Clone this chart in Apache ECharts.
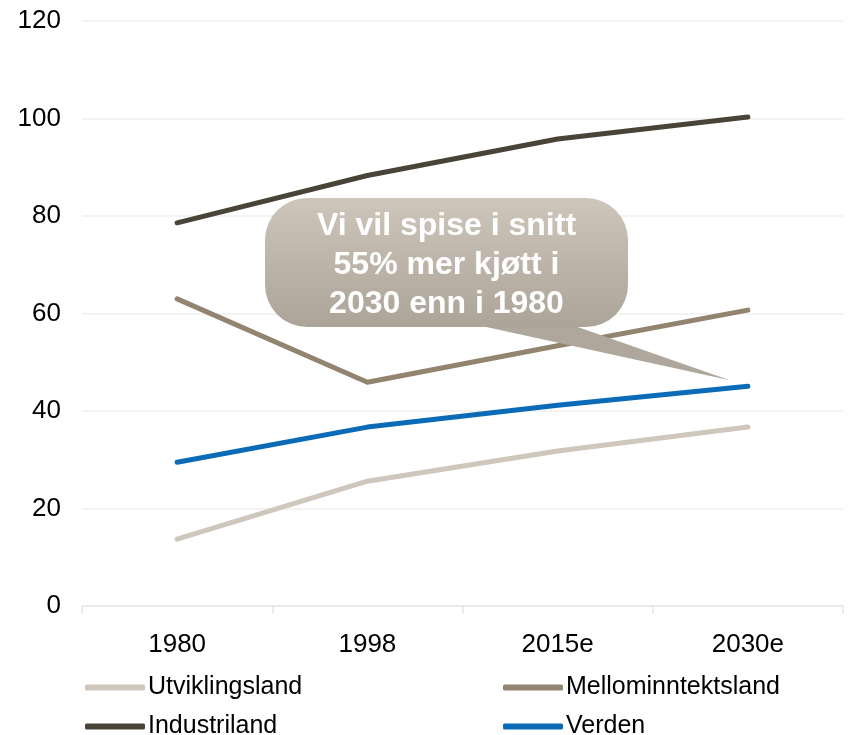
<!DOCTYPE html>
<html>
<head>
<meta charset="utf-8">
<script src="https://cdn.jsdelivr.net/npm/echarts@6/dist/echarts.min.js"></script>
<style>
html,body{margin:0;padding:0;background:#fff;}
#chart{width:850px;height:735px;}
</style>
</head>
<body>
<div id="chart"></div>
<script>
var categories = ['1980', '1998', '2015e', '2030e'];
var utviklingsland = [13.7, 25.6, 31.8, 36.7];
var mellominntektsland = [63.0, 45.9, 53.4, 60.7];
var industriland = [78.6, 88.3, 95.8, 100.3];
var verden = [29.5, 36.7, 41.2, 45.1];
var yTicks = {min: 0, max: 120, interval: 20};
var calloutText = 'Vi vil spise i snitt\n55% mer kjøtt i\n2030 enn i 1980';

var FONT = 'Arial, "Liberation Sans", sans-serif';
var colors = {
  Utviklingsland: '#CFC6BC',
  Mellominntektsland: '#938470',
  Industriland: '#4A4338',
  Verden: '#0B6BB6'
};

function lineSeries(name, data) {
  return {
    name: name,
    type: 'line',
    data: data,
    symbol: 'none',
    smooth: false,
    lineStyle: {width: 5, color: colors[name], cap: 'round', join: 'round'},
    itemStyle: {color: colors[name]},
    z: 2
  };
}

var chart = echarts.init(document.getElementById('chart'), null, {renderer: 'canvas'});
function legendAt(left, names) {
  return {
    type: 'plain',
    orient: 'vertical',
    left: left,
    top: 675,
    width: 320,
    height: 90,
    padding: 0,
    itemWidth: 60,
    itemHeight: 6,
    itemGap: 14,
    icon: 'roundRect',
    data: names,
    textStyle: {fontSize: 25, fontFamily: FONT, color: '#000', lineHeight: 22, padding: [0, 0, 0, -2]}
  };
}
var option = {
  animation: false,
  backgroundColor: '#fff',
  grid: {left: 82, right: 7, top: 21, bottom: 129, containLabel: false},
  xAxis: {
    type: 'category',
    data: categories,
    boundaryGap: true,
    axisLine: {lineStyle: {color: '#E6E6E6', width: 1.5}},
    axisTick: {show: true, length: 8, lineStyle: {color: '#E6E6E6', width: 1.5}},
    axisLabel: {fontSize: 26, fontFamily: FONT, color: '#000', margin: 26}
  },
  yAxis: {
    type: 'value',
    min: yTicks.min,
    max: yTicks.max,
    interval: yTicks.interval,
    axisLine: {show: false},
    axisTick: {show: false},
    axisLabel: {fontSize: 26, fontFamily: FONT, color: '#000', margin: 21},
    splitLine: {lineStyle: {color: '#EFEFEF', width: 1.5}}
  },
  legend: [
    legendAt(85, ['Utviklingsland', 'Industriland']),
    legendAt(503, ['Mellominntektsland', 'Verden'])
  ],
  series: [
    lineSeries('Utviklingsland', utviklingsland),
    lineSeries('Mellominntektsland', mellominntektsland),
    lineSeries('Industriland', industriland),
    lineSeries('Verden', verden)
  ]
};
chart.setOption(option);

// Callout annotation pointing at the world line's last point
var tipRef = chart.convertToPixel({xAxisIndex: 0, yAxisIndex: 0}, [categories[3], verden[3]]);
var tip = [tipRef[0] - 18, tipRef[1] - 6];
var box = {x: 265, y: 198, w: 363, h: 129};
var grad = new echarts.graphic.LinearGradient(0, 0, 0, 1, [
  {offset: 0, color: '#CEC5BB'},
  {offset: 1, color: '#ACA498'}
]);
chart.setOption({
  graphic: [
    {
      type: 'polygon',
      z: 100,
      shape: {points: [[477, box.y + box.h - 2], [572, box.y + box.h - 2], tip]},
      style: {fill: '#AFA79C'}
    },
    {
      type: 'rect',
      z: 101,
      shape: {x: box.x, y: box.y, width: box.w, height: box.h, r: 42},
      style: {fill: grad}
    },
    {
      type: 'text',
      z: 102,
      x: box.x + box.w / 2,
      y: box.y + box.h / 2 + 3,
      style: {
        text: calloutText,
        fill: '#fff',
        font: 'bold 32px ' + FONT,
        align: 'center',
        verticalAlign: 'middle',
        lineHeight: 39
      }
    }
  ]
});
</script>
</body>
</html>
